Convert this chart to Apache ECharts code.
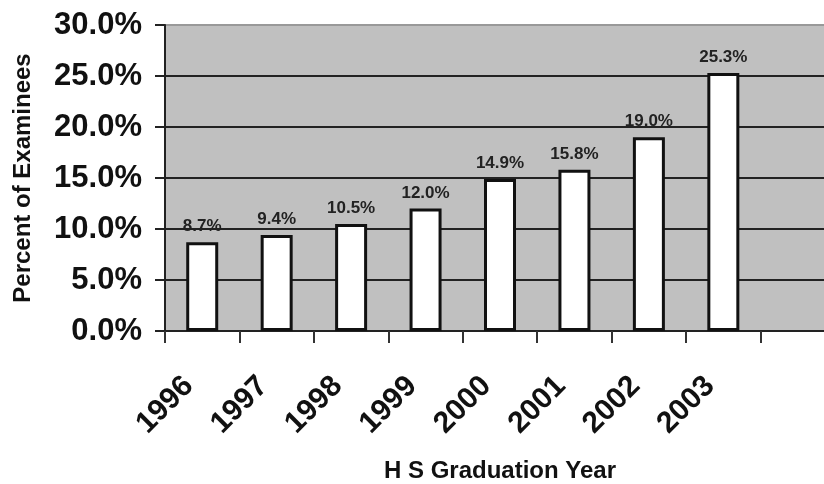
<!DOCTYPE html>
<html>
<head>
<meta charset="utf-8">
<script src="https://cdn.jsdelivr.net/npm/echarts@6/dist/echarts.min.js"></script>
<style>
html,body{margin:0;padding:0;background:#fff;}
#chart{width:824px;height:484px;}
</style>
</head>
<body>
<div id="chart"></div>
<script>
var categories = ['1996', '1997', '1998', '1999', '2000', '2001', '2002', '2003', ''];
var percentValues = [8.7, 9.4, 10.5, 12.0, 14.9, 15.8, 19.0, 25.3];
var yTicks = [0, 5, 10, 15, 20, 25, 30];

var chart = echarts.init(document.getElementById('chart'));
var FONT = '"Liberation Sans", Arial, sans-serif';
chart.setOption({
  animation: false,
  backgroundColor: '#ffffff',
  grid: {
    left: 165, top: 25, height: 306, width: 670,
    outerBoundsMode: 'none',
    containLabel: false,
    show: true, backgroundColor: '#c0c0c0', borderWidth: 0
  },
  xAxis: {
    type: 'category',
    data: categories,
    boundaryGap: true,
    name: 'H S Graduation Year',
    nameLocation: 'middle',
    nameGap: 128,
    nameTextStyle: { fontFamily: FONT, fontWeight: 'bold', fontSize: 24, color: '#111' },
    axisLine: { show: true, lineStyle: { color: '#222', width: 2 } },
    axisTick: { show: true, alignWithLabel: false, length: 12, lineStyle: { color: '#333', width: 2 } },
    axisLabel: {
      rotate: 45, interval: 0, margin: 37,
      fontFamily: FONT, fontWeight: 'bold', fontSize: 30, color: '#111',
      padding: [0, 19, 0, 0]
    },
    splitLine: { show: false }
  },
  yAxis: {
    type: 'value',
    min: yTicks[0], max: yTicks[yTicks.length - 1], interval: 5,
    name: 'Percent of Examinees',
    nameLocation: 'middle',
    nameRotate: 90,
    nameGap: 130,
    nameTextStyle: { fontFamily: FONT, fontWeight: 'bold', fontSize: 24, color: '#111' },
    axisLine: { show: true, lineStyle: { color: '#222', width: 2 } },
    axisTick: { show: true, length: 10, lineStyle: { color: '#222', width: 2 } },
    axisLabel: {
      margin: 23,
      fontFamily: FONT, fontWeight: 'bold', fontSize: 31, color: '#111',
      formatter: function (v) { return v.toFixed(1) + '%'; }
    },
    splitLine: {
      show: true,
      lineStyle: { color: ['#222', '#222', '#222', '#222', '#222', '#222', '#999'], width: 2 }
    }
  },
  series: [{
    type: 'bar',
    data: percentValues,
    barWidth: 32,
    itemStyle: { color: '#ffffff', borderColor: '#111', borderWidth: 3 },
    label: {
      show: true, position: 'top', distance: 7,
      fontFamily: FONT, fontWeight: 'bold', fontSize: 17, color: '#222',
      formatter: function (p) { return p.value.toFixed(1) + '%'; }
    }
  }]
});
</script>
</body>
</html>
